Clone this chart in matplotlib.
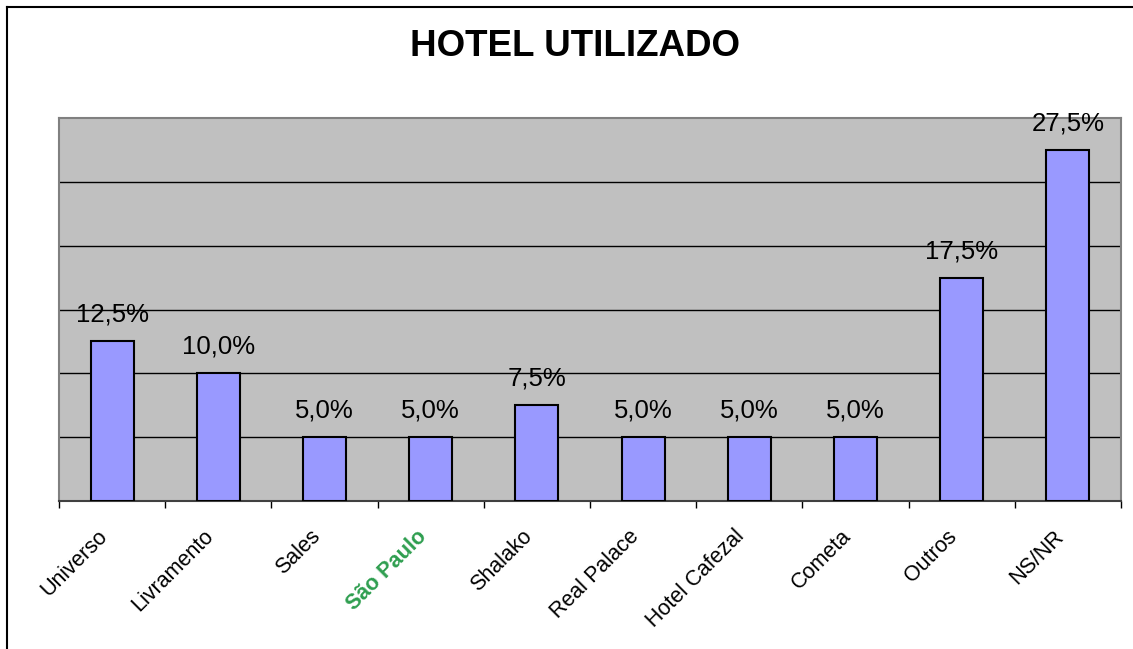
import matplotlib
matplotlib.use("Agg")
import matplotlib.pyplot as plt
from matplotlib.lines import Line2D
from matplotlib.transforms import ScaledTranslation

plt.rcParams['font.family'] = ['Liberation Sans', 'DejaVu Sans']

# Data
hotels = ["Universo", "Livramento", "Sales", "São Paulo", "Shalako",
          "Real Palace", "Hotel Cafezal", "Cometa", "Outros", "NS/NR"]
shares = [12.5, 10.0, 5.0, 5.0, 7.5, 5.0, 5.0, 5.0, 17.5, 27.5]
value_labels = ["12,5%", "10,0%", "5,0%", "5,0%", "7,5%",
                "5,0%", "5,0%", "5,0%", "17,5%", "27,5%"]

fig = plt.figure(figsize=(11.33, 6.49), dpi=100)
ax = fig.add_axes([59 / 1133, 1 - 501 / 649, (1121 - 59) / 1133, (501 - 118) / 649])
ax.set_facecolor("#c0c0c0")

x = list(range(len(hotels)))
bars = ax.bar(x, shares, width=0.405, color="#9999ff", edgecolor="black",
              linewidth=1.5, zorder=3)

for rect, lab in zip(bars, value_labels):
    ax.annotate(lab, (rect.get_x() + rect.get_width() / 2, rect.get_height()),
                xytext=(0, 14), textcoords="offset points",
                ha="center", va="baseline", fontsize=18.5, zorder=4)

ax.set_xlim(-0.5, len(hotels) - 0.5)
ax.set_ylim(0, 30)
ax.set_yticks([5, 10, 15, 20, 25])
ax.yaxis.grid(True, color="black", linewidth=1)
ax.tick_params(axis="y", length=0, labelleft=False)
ax.set_axisbelow(True)

# category boundaries get the tick marks
ax.set_xticks([i - 0.5 for i in range(len(hotels) + 1)], minor=True)
ax.tick_params(axis="x", which="minor", length=5, width=1, color="black", direction="out")
ax.set_xticks(x)
ax.set_xticklabels(hotels, rotation=45, ha="right", va="top",
                   rotation_mode="anchor", fontsize=15.5)
ax.tick_params(axis="x", which="major", length=0, pad=18)
for lab in ax.get_xticklabels():
    lab.set_transform(lab.get_transform() + ScaledTranslation(-0.15, 0, fig.dpi_scale_trans))
ax.get_xticklabels()[3].set_color("#2e9e4f")
ax.get_xticklabels()[3].set_fontweight("bold")

for side in ["left", "top", "right"]:
    ax.spines[side].set_color("#808080")
    ax.spines[side].set_linewidth(1.5)
ax.spines["bottom"].set_color("#404040")
ax.spines["bottom"].set_linewidth(1.5)

fig.text(575 / 1133, 1 - 47 / 649, "HOTEL UTILIZADO", ha="center", va="center",
         fontsize=26.5, fontweight="bold")

# outer chart frame (only left and top edges visible)
fig.add_artist(Line2D([7 / 1133, 7 / 1133], [0, 1 - 7 / 649], color="black", linewidth=1.5,
                      transform=fig.transFigure))
fig.add_artist(Line2D([7 / 1133, 1], [1 - 7 / 649, 1 - 7 / 649], color="black", linewidth=1.5,
                      transform=fig.transFigure))

fig.savefig("out.png", dpi=100)
